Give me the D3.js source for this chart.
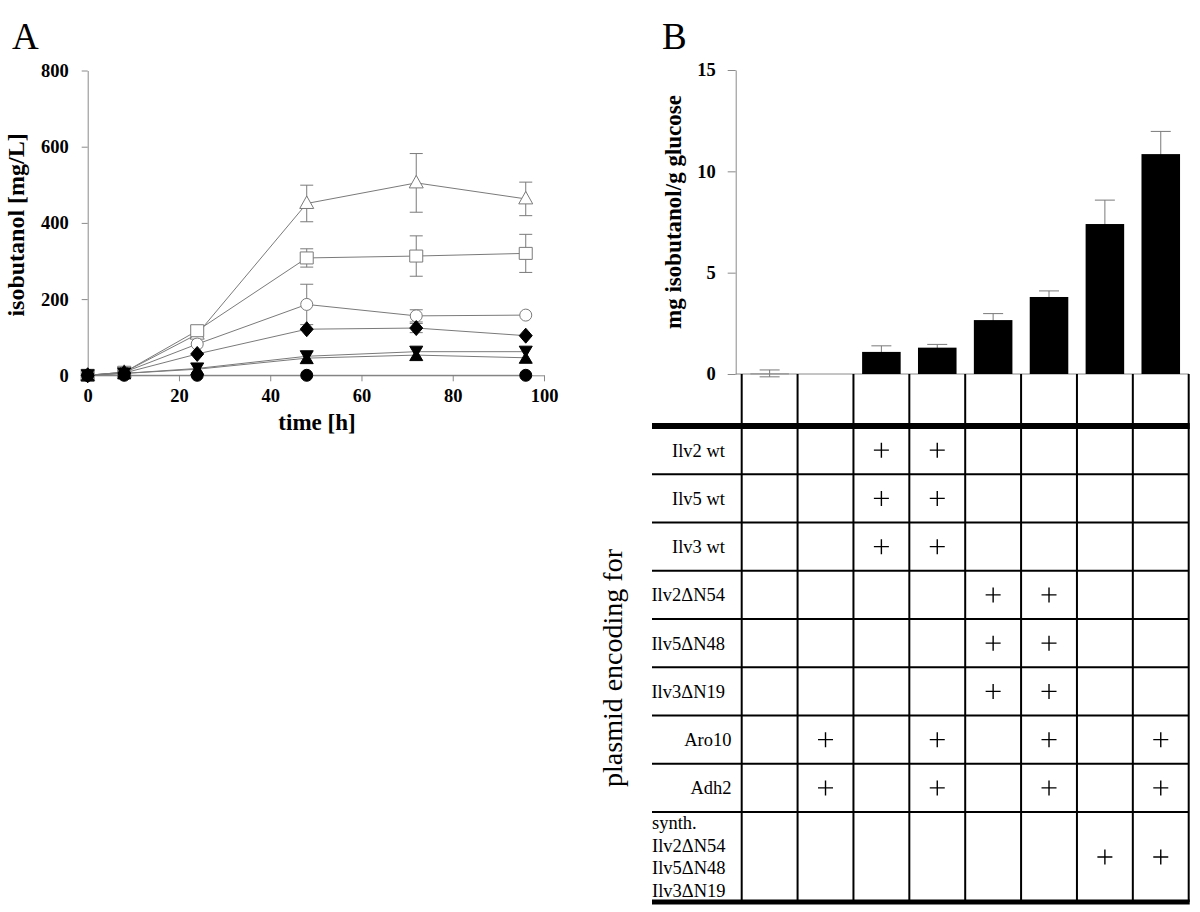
<!DOCTYPE html>
<html><head><meta charset="utf-8">
<script src="https://cdn.jsdelivr.net/npm/d3@7"></script>
<style>body{margin:0;background:#fff} svg{display:block}</style>
</head><body>
<svg id="c" width="1200" height="912"></svg>
<script>
// ---------- Panel A data ----------
const times = [0, 8, 24, 48, 72, 96];
const openTriangle = [0, 8, 108, 451, 505, 463];
const openTriangleErr = [0, 0, 0, 48, 77, 44];
const openSquare = [0, 8, 117, 308, 313, 320];
const openSquareErr = [0, 0, 12, 24, 53, 50];
const openCircle = [0, 8, 82, 186, 156, 158];
const openCircleErr = [0, 0, 0, 53, 16, 0];
const filledDiamond = [0, 6, 56, 121, 124, 104];
const filledDiamondErr = [0, 0, 0, 0, 12, 0];
const filledTriDown = [0, 5, 18, 50, 62, 62];
const filledTriUp = [0, 5, 16, 45, 53, 46];
const filledCircle = [0, 0, 0, 0, null, 0];
const xTicksA = [0, 20, 40, 60, 80, 100];
const yTicksA = [0, 200, 400, 600, 800];

// ---------- Panel B data ----------
const strains = ["1", "2", "3", "4", "5", "6", "7", "8"];
const yieldVals = [0.03, 0, 1.09, 1.3, 2.66, 3.8, 7.4, 10.85];
const yieldErr = [0.17, 0, 0.3, 0.16, 0.32, 0.3, 1.18, 1.12];
const yTicksB = [0, 5, 10, 15];
const rowLabels = [["Ilv2 wt"], ["Ilv5 wt"], ["Ilv3 wt"], ["Ilv2ΔN54"], ["Ilv5ΔN48"], ["Ilv3ΔN19"], ["Aro10"], ["Adh2"], ["synth.", "Ilv2ΔN54", "Ilv5ΔN48", "Ilv3ΔN19"]];
const plusCols = [[3, 4], [3, 4], [3, 4], [5, 6], [5, 6], [5, 6], [2, 4, 6, 8], [2, 4, 6, 8], [7, 8]];

const SERIF = "'Liberation Serif','Times New Roman',serif";
const AX = "#8a8a8a";
const LN = "#7a7a7a";
const svg = d3.select("#c");

// ================= PANEL A =================
const xA = d3.scaleLinear().domain([0, 100]).range([87.7, 544]);
const yA = d3.scaleLinear().domain([0, 800]).range([375.3, 70.5]);

svg.append("text").attr("x", 12).attr("y", 49).attr("font-family", SERIF).attr("font-size", 37).text("A");

function styleAxis(g, size) {
  g.attr("font-family", SERIF).attr("font-size", size).attr("font-weight", "bold");
  g.selectAll("path,line").attr("stroke", AX);
  g.selectAll("text").attr("fill", "#000");
}
const yAxA = svg.append("g").attr("transform", `translate(${xA(0)},0)`)
  .call(d3.axisLeft(yA).tickValues(yTicksA).tickSize(6).tickSizeOuter(0).tickPadding(13));
styleAxis(yAxA, 18.5);
const xAxA = svg.append("g").attr("transform", `translate(0,${yA(0)})`)
  .call(d3.axisBottom(xA).tickValues(xTicksA).tickSize(6).tickSizeOuter(0).tickPadding(8));
styleAxis(xAxA, 18.5);

svg.append("text").attr("transform", `translate(24,${(yA(0) + yA(800)) / 2 + 2}) rotate(-90)`)
  .attr("text-anchor", "middle").attr("font-family", SERIF).attr("font-weight", "bold").attr("font-size", 24)
  .text("isobutanol [mg/L]");
svg.append("text").attr("x", 317).attr("y", 430).attr("text-anchor", "middle")
  .attr("font-family", SERIF).attr("font-weight", "bold").attr("font-size", 23).text("time [h]");

const seriesA = [
  { v: openTriangle, e: openTriangleErr, shape: "triUp", open: true },
  { v: openSquare, e: openSquareErr, shape: "square", open: true },
  { v: openCircle, e: openCircleErr, shape: "circle", open: true },
  { v: filledDiamond, e: filledDiamondErr, shape: "diamond", open: false },
  { v: filledTriDown, e: null, shape: "triDownS", open: false },
  { v: filledTriUp, e: null, shape: "triUpS", open: false },
  { v: filledCircle, e: null, shape: "circle", open: false }
];
function pts(s) { return times.map((t, i) => ({ t, v: s.v[i], e: s.e ? s.e[i] : 0 })).filter(d => d.v != null); }
const line = d3.line().x(d => xA(d.t)).y(d => yA(d.v));

const gLines = svg.append("g");
seriesA.forEach(s => gLines.append("path").attr("d", line(pts(s))).attr("fill", "none").attr("stroke", LN).attr("stroke-width", 1));

const gErr = svg.append("g").attr("stroke", LN).attr("stroke-width", 1);
seriesA.forEach(s => pts(s).filter(d => d.e > 0).forEach(d => {
  const x = xA(d.t), y1 = yA(d.v + d.e), y0 = yA(d.v - d.e);
  gErr.append("line").attr("x1", x).attr("x2", x).attr("y1", y1).attr("y2", y0);
  gErr.append("line").attr("x1", x - 6.5).attr("x2", x + 6.5).attr("y1", y1).attr("y2", y1);
  gErr.append("line").attr("x1", x - 6.5).attr("x2", x + 6.5).attr("y1", y0).attr("y2", y0);
}));

function shapePath(shape) {
  switch (shape) {
    case "triUp": return "M0,-7.5L7,5L-7,5Z";
    case "square": return "M-6.5,-6L6.5,-6L6.5,6L-6.5,6Z";
    case "circle": return d3.symbol(d3.symbolCircle, 113)();
    case "diamond": return "M0,-7.5L6.5,0L0,7.5L-6.5,0Z";
    case "triDownS": return "M-6.5,-5.5L6.5,-5.5L0,5.5Z";
    case "triUpS": return "M0,-5.5L6.5,5.5L-6.5,5.5Z";
  }
}
const gMk = svg.append("g");
seriesA.forEach(s => pts(s).forEach(d => {
  gMk.append("path").attr("d", shapePath(s.shape))
    .attr("transform", `translate(${xA(d.t)},${yA(d.v)})`)
    .attr("fill", s.open ? "#fff" : "#000")
    .attr("stroke", s.open ? LN : "#000").attr("stroke-width", 1);
}));

// ================= PANEL B =================
const xB = d3.scaleBand().domain(strains).range([741.7, 1188.7]);
const yB = d3.scaleLinear().domain([0, 15]).range([374, 70]);
const axisXB = 735.7;

svg.append("text").attr("x", 662).attr("y", 49).attr("font-family", SERIF).attr("font-size", 37).text("B");

const yAxB = svg.append("g").attr("transform", `translate(${axisXB},0)`)
  .call(d3.axisLeft(yB).tickValues(yTicksB).tickSize(8).tickSizeOuter(0).tickPadding(12));
styleAxis(yAxB, 18.5);
svg.append("line").attr("x1", axisXB).attr("x2", 1189).attr("y1", yB(0)).attr("y2", yB(0)).attr("stroke", AX);

svg.append("text").attr("transform", `translate(681,${(yB(0) + yB(15)) / 2 - 10}) rotate(-90)`)
  .attr("text-anchor", "middle").attr("font-family", SERIF).attr("font-weight", "bold").attr("font-size", 23)
  .text("mg isobutanol/g glucose");

// error bars (drawn under bars)
const gErrB = svg.append("g").attr("stroke", LN).attr("stroke-width", 1);
strains.forEach((s, i) => {
  if (yieldErr[i] <= 0) return;
  const x = xB(s) + xB.bandwidth() / 2;
  const y1 = yB(yieldVals[i] + yieldErr[i]), y0 = yB(yieldVals[i] - yieldErr[i]);
  gErrB.append("line").attr("x1", x).attr("x2", x).attr("y1", y1).attr("y2", y0);
  gErrB.append("line").attr("x1", x - 10).attr("x2", x + 10).attr("y1", y1).attr("y2", y1);
  gErrB.append("line").attr("x1", x - 10).attr("x2", x + 10).attr("y1", y0).attr("y2", y0);
});
const barW = xB.bandwidth() * 0.69;
svg.append("g").selectAll("rect").data(strains.filter((s, i) => yieldVals[i] > 0)).join("rect")
  .attr("x", s => xB(s) + (xB.bandwidth() - barW) / 2)
  .attr("width", barW)
  .attr("y", s => yB(yieldVals[strains.indexOf(s)]))
  .attr("height", s => Math.max(1, yB(0) - yB(yieldVals[strains.indexOf(s)])))
  .attr("fill", s => yieldVals[strains.indexOf(s)] < 0.1 ? "#888" : "#000");

// ---------- table ----------
const tableLeft = 652, tableRight = 1188.7;
const headTop = yB(0), bodyTop = 426, rowH = 48.25, lastRowH = 90;
const rowTops = rowLabels.map((r, i) => bodyTop + i * rowH);
const tableBottom = rowTops[rowTops.length - 1] + lastRowH;
const gT = svg.append("g");
strains.forEach(s => gT.append("line").attr("x1", xB(s)).attr("x2", xB(s)).attr("y1", headTop).attr("y2", tableBottom).attr("stroke", "#000").attr("stroke-width", 2));
gT.append("line").attr("x1", tableRight).attr("x2", tableRight).attr("y1", headTop).attr("y2", tableBottom).attr("stroke", "#000").attr("stroke-width", 2);
rowTops.slice(1).forEach(y => gT.append("line").attr("x1", tableLeft).attr("x2", tableRight).attr("y1", y).attr("y2", y).attr("stroke", "#000").attr("stroke-width", 2));
gT.append("line").attr("x1", tableLeft).attr("x2", tableRight + 1).attr("y1", bodyTop).attr("y2", bodyTop).attr("stroke", "#000").attr("stroke-width", 6);
gT.append("line").attr("x1", tableLeft).attr("x2", tableRight + 1).attr("y1", tableBottom).attr("y2", tableBottom).attr("stroke", "#000").attr("stroke-width", 5);

rowLabels.forEach((lab, i) => {
  const top = rowTops[i], h = i === rowLabels.length - 1 ? lastRowH : rowH;
  if (lab.length === 1) {
    const isShort = lab[0] === "Aro10" || lab[0] === "Adh2";
    gT.append("text").attr("x", isShort ? 731.5 : 725).attr("y", top + h / 2 + 6.5)
      .attr("text-anchor", "end").attr("font-family", SERIF).attr("font-size", 18.5).text(lab[0]);
  } else {
    lab.forEach((t, j) => gT.append("text").attr("x", tableLeft).attr("y", top + 17 + j * 22.5)
      .attr("font-family", SERIF).attr("font-size", 18.5).text(t));
  }
  plusCols[i].forEach(c => {
    const s = strains[c - 1];
    const cx = xB(s) + xB.bandwidth() / 2, cy = top + h / 2;
    gT.append("path").attr("d", `M${cx - 7.5},${cy}H${cx + 7.5}M${cx},${cy - 7.5}V${cy + 7.5}`)
      .attr("stroke", "#000").attr("stroke-width", 1.4).attr("fill", "none");
  });
});

svg.append("text").attr("transform", `translate(622,668) rotate(-90)`)
  .attr("text-anchor", "middle").attr("font-family", SERIF).attr("font-size", 28)
  .text("plasmid encoding for");
</script>
</body></html>
